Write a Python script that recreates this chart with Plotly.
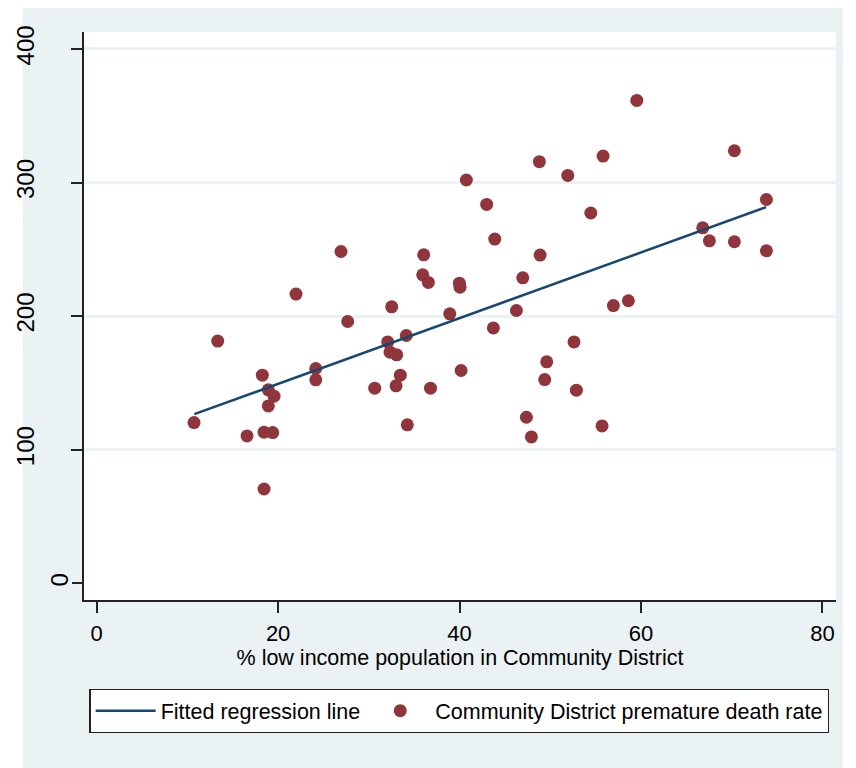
import plotly.graph_objects as go

# ---- data ----
pct_low_income = [
    26.93, 21.97, 32.52, 27.67, 36.05, 35.94, 36.56, 59.54, 70.30, 55.82,
    48.80, 51.93, 40.75, 42.99, 73.83, 54.47, 43.88, 66.81, 67.54, 70.30,
    73.83, 48.88, 46.97, 39.98, 40.05, 38.92, 46.27, 56.96, 58.61, 43.73,
    52.62, 49.61, 36.80, 40.17, 49.39, 52.88, 47.37, 47.92, 55.71, 13.34,
    32.08, 34.13, 32.34, 33.07, 24.15, 24.15, 18.26, 33.47, 30.65, 33.00,
    18.92, 19.55, 18.92, 10.73, 16.57, 18.45, 19.40, 34.24, 18.45,
]
death_rate = [
    248.4, 216.5, 207.0, 196.0, 245.9, 230.9, 225.2, 361.5, 323.8, 319.8,
    315.6, 305.3, 301.9, 283.6, 287.3, 277.2, 257.7, 266.1, 256.4, 255.7,
    248.9, 245.7, 228.7, 224.7, 221.7, 201.7, 204.2, 207.9, 211.5, 191.2,
    180.7, 165.8, 146.1, 159.3, 152.5, 144.6, 124.3, 109.6, 117.8, 181.3,
    180.7, 185.5, 173.0, 171.0, 160.8, 152.3, 155.8, 155.8, 146.1, 147.8,
    144.8, 140.1, 132.8, 120.3, 110.3, 113.1, 112.8, 118.6, 70.6,
]
fit_x = [10.76, 73.8]
fit_y = [126.6, 281.6]

x_tick_vals = [0, 20, 40, 60, 80]
x_tick_labels = ["0", "20", "40", "60", "80"]
y_tick_vals = [0, 100, 200, 300, 400]
y_tick_labels = ["0", "100", "200", "300", "400"]

series_names = ["Fitted regression line", "Community District premature death rate"]
x_title = "% low income population in Community District"

# ---- styling ----
BG = "#EAF2F3"
NAVY = "#1A476F"
MAROON = "#90353B"
FONT = "Liberation Sans, Arial, sans-serif"
X_RANGE = [-1.4, 81.5]
Y_RANGE = [-12.5, 412.7]

fig = go.Figure()
fig.add_trace(go.Scatter(
    x=fit_x, y=fit_y, mode="lines", name=series_names[0],
    line=dict(color=NAVY, width=2.5), yaxis="y2",
))
fig.add_trace(go.Scatter(
    x=pct_low_income, y=death_rate, mode="markers", name=series_names[1],
    marker=dict(color=MAROON, size=13, line=dict(width=0)),
))

axis_common = dict(ticks="outside", ticklen=11, tickwidth=1.5, tickcolor="#222",
                   zeroline=False, automargin=False)

fig.update_layout(
    width=848, height=760, autosize=False,
    margin=dict(l=76, r=20, t=24, b=168, pad=0),
    paper_bgcolor=BG, plot_bgcolor="white",
    showlegend=True,
    xaxis=dict(
        range=X_RANGE, tickvals=x_tick_vals, ticktext=x_tick_labels,
        showgrid=False, showline=True, linecolor="#222", linewidth=1.5,
        tickfont=dict(family=FONT, size=22, color="black"),
        ticklabelstandoff=2,
        title=dict(text=x_title, font=dict(family=FONT, size=21.5, color="black"),
                   standoff=2),
        **axis_common,
    ),
    yaxis=dict(
        range=Y_RANGE, tickvals=y_tick_vals[1:], ticktext=y_tick_labels[1:],
        showgrid=True, gridcolor=BG, gridwidth=2.5,
        showline=True, linecolor="#222", linewidth=1.5,
        tickangle=-90, ticklabelstandoff=28,
        tickfont=dict(family=FONT, size=24, color="black"),
        **axis_common,
    ),
    yaxis2=dict(
        range=Y_RANGE, overlaying="y", side="left",
        tickvals=y_tick_vals[:1], ticktext=y_tick_labels[:1],
        showgrid=False, showline=False,
        tickangle=-90, ticklabelstandoff=-6,
        tickfont=dict(family=FONT, size=24, color="black"),
        **axis_common,
    ),
    legend=dict(
        orientation="h", x=0.4993, xanchor="center", y=-0.1567, yanchor="top",
        bgcolor="white", bordercolor="#222", borderwidth=1.2,
        font=dict(family=FONT, size=21.5, color="black"),
        itemwidth=60,
    ),
    shapes=[
        dict(type="rect", xref="paper", yref="paper", x0=-0.102, x1=-0.0811,
             y0=-0.3, y1=1.05, fillcolor="white", line=dict(width=0), layer="below"),
        dict(type="rect", xref="paper", yref="paper", x0=1.0093, x1=1.03,
             y0=-0.3, y1=1.05, fillcolor="white", line=dict(width=0), layer="below"),
    ],
)

fig.write_html("out.html")
